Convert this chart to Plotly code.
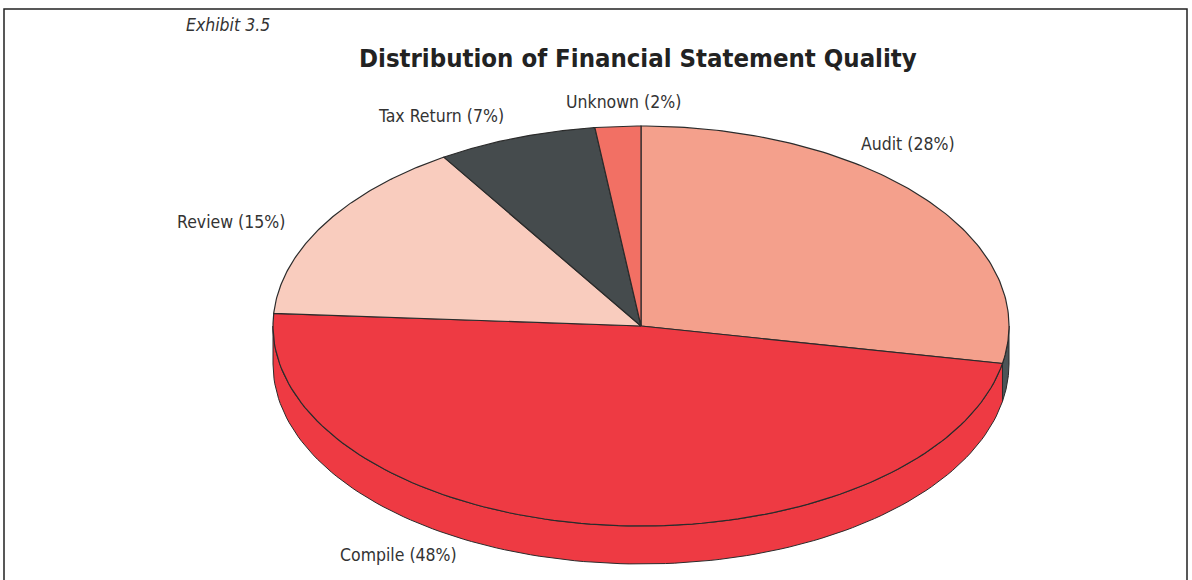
import numpy as np
import plotly.graph_objects as go

# ---- data ----
categories = ["Audit", "Compile", "Review", "Tax Return", "Unknown"]
shares = [28, 48, 15, 7, 2]
top_colors = ["#F4A08C", "#EE3A43", "#F9CCBE", "#454B4D", "#F27064"]
side_colors = ["#4B5457", "#EE3A43", "#F9CCBE", "#454B4D", "#F27064"]
labels = [f"{c} ({v}%)" for c, v in zip(categories, shares)]

# label positions (pixel coords, centre of text)
label_pos = {
    "Audit": (908, 144),
    "Compile": (398, 555),
    "Review": (231, 222),
    "Tax Return": (441, 116),
    "Unknown": (623, 102),
}

# ---- pie geometry (pixels) ----
W, H = 1192, 580
CX, CY, RX, RY, DEPTH = 641, 326, 368, 200, 38
EDGE = "#2B2B2B"
FONT = "Liberation Sans Narrow, DejaVu Sans Condensed, Arial Narrow, sans-serif"


def arc(a, b, n=120, dy=0.0):
    t = np.linspace(a, b, n)
    return CX + RX * np.sin(t), CY - RY * np.cos(t) + dy


total = float(sum(shares))
bounds = []
acc = 0.0
for v in shares:
    a = acc / total * 2 * np.pi
    acc += v
    b = acc / total * 2 * np.pi
    bounds.append((a, b))

fig = go.Figure()

# side walls (front half only)
for (a, b), col in zip(bounds, side_colors):
    s, e = max(a, np.pi / 2), min(b, 3 * np.pi / 2)
    if s >= e:
        continue
    xt, yt = arc(s, e)
    xb, yb = arc(e, s, dy=DEPTH)
    xs = np.concatenate([xt, xb, xt[:1]])
    ys = np.concatenate([yt, yb, yt[:1]])
    fig.add_trace(go.Scatter(x=xs, y=ys, mode="lines", fill="toself",
                             fillcolor=col, line=dict(color=EDGE, width=1),
                             hoverinfo="skip", showlegend=False))

# top faces
for (a, b), col in zip(bounds, top_colors):
    xt, yt = arc(a, b)
    xs = np.concatenate([[CX], xt, [CX]])
    ys = np.concatenate([[CY], yt, [CY]])
    fig.add_trace(go.Scatter(x=xs, y=ys, mode="lines", fill="toself",
                             fillcolor=col, line=dict(color=EDGE, width=1.2),
                             hoverinfo="skip", showlegend=False))

for cat, lab in zip(categories, labels):
    x, y = label_pos[cat]
    fig.add_annotation(x=x, y=y, text=lab, showarrow=False,
                       font=dict(family=FONT, size=17.5, color="#333333"),
                       xanchor="center", yanchor="middle")

fig.add_annotation(x=228, y=25, text="<i>Exhibit 3.5</i>", showarrow=False,
                   font=dict(family=FONT, size=17.5, color="#333333"),
                   xanchor="center", yanchor="middle")
fig.add_annotation(x=638, y=58, text="<b>Distribution of Financial Statement Quality</b>",
                   showarrow=False, font=dict(family=FONT, size=25.5, color="#222222"),
                   xanchor="center", yanchor="middle")

fig.add_shape(type="rect", xref="paper", yref="paper",
              x0=4 / W, x1=1187 / W, y0=-0.05, y1=1 - 9 / H,
              line=dict(color="#222222", width=1.5), fillcolor="rgba(0,0,0,0)")

fig.update_layout(
    width=W, height=H,
    margin=dict(l=0, r=0, t=0, b=0),
    paper_bgcolor="white", plot_bgcolor="white",
    xaxis=dict(range=[0, W], visible=False, fixedrange=True),
    yaxis=dict(range=[H, 0], visible=False, fixedrange=True),
    showlegend=False,
)

fig.write_html("out.html", config={"displayModeBar": False},
               post_script="document.body.style.margin='0';document.body.style.overflow='hidden';")
